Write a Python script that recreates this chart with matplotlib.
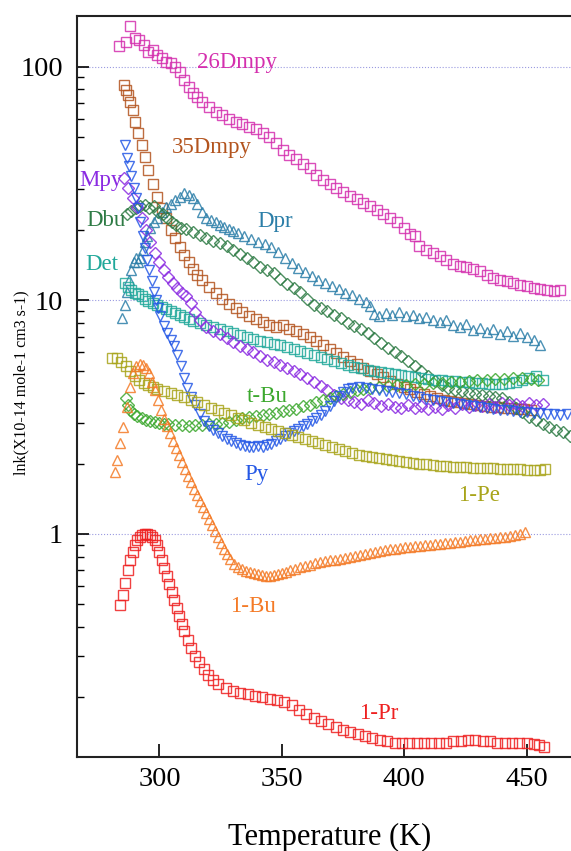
#!/usr/bin/env python3

import numpy as np
import matplotlib
matplotlib.use("Agg")
import matplotlib.pyplot as plt
from matplotlib.ticker import LogLocator, NullFormatter, NullLocator

plt.rcParams['font.family'] = ['Liberation Serif', 'DejaVu Serif']

# ---- data (temperature in K, k in 1e-14 mol-1 cm3 s-1) ----
t_26dmpy = [283.5, 286.3, 288.1, 289.9, 291.7, 293.6,
            295.4, 297.2, 299.1, 300.9, 302.7, 304.6, 306.4, 308.2, 310.0, 311.9, 313.7, 315.5, 317.4,
            320.1, 322.9, 325.6, 328.3, 331.1, 333.8, 336.6, 339.3, 342.1, 344.8, 347.6, 350.3, 353.1,
            355.8, 358.5, 361.3, 364.0, 366.8, 369.5, 372.3, 375.0, 377.8, 380.5, 383.2, 386.0, 388.7,
            391.5, 394.2, 397.0, 399.7, 402.5, 404.3, 406.1,
            408.9, 411.6, 414.4, 417.1, 419.8, 422.6, 425.3, 428.1, 430.8, 433.6, 436.3, 439.1, 441.8,
            444.6, 447.3, 450.0, 452.8, 455.5, 458.3, 461.0, 463.8]
k_26dmpy = [123, 128, 150, 133, 130, 124,
            116, 118, 112, 109, 105, 104, 100, 95, 88, 82, 77, 74, 71,
            67, 64, 62, 60, 58, 57, 55, 54, 52, 50, 47, 44, 42, 40.4, 38.4, 36.9, 34.5, 32.8, 31.6,
            30.3, 29.2, 28.0, 27.1, 26.1, 25.3, 24.4, 23.5, 22.5, 21.7, 20.5, 19.3, 18.9, 17.1,
            16.4, 16.0, 15.5, 14.9, 14.3, 14.1, 13.9, 13.6, 13.4, 12.9, 12.5, 12.2, 12.1, 11.9, 11.6,
            11.5, 11.3, 11.2, 11.1, 11.0, 11.1]

t_35dmpy = [285.3, 286.3, 287.2, 288.1, 289.0, 289.9, 291.3, 292.7, 294.0, 295.4,
            297.2, 299.1, 300.9, 302.7, 304.6, 306.4, 308.2, 310.0, 311.9, 313.7, 315.5, 317.4,
            320.1, 322.9, 325.6, 328.3, 331.1, 333.8, 336.6, 339.3, 342.1, 344.8, 347.6, 350.3, 353.1,
            355.8, 358.5, 361.3, 364.0, 366.8, 369.5, 372.3, 375.0, 377.8, 380.5, 383.2, 386.0, 388.7,
            391.5, 394.2, 397.0, 399.7, 402.5, 405.2, 408.0, 410.7, 413.4, 416.2, 418.9, 421.7, 424.4,
            427.2, 429.9, 432.7, 435.4, 438.1, 440.9, 443.6, 446.4, 449.1, 451.9]
k_35dmpy = [83.7, 79.7, 75.9, 70.8, 65.5, 58.1, 52.1, 46.3, 41.2, 36.2,
            31.6, 27.7, 24.9, 22.6, 20.0, 18.5, 17.0, 15.7, 14.6, 13.6, 12.9, 12.2,
            11.4, 10.8, 10.1, 9.66, 9.29, 8.93, 8.59, 8.34, 8.09, 7.85, 7.70, 7.85, 7.55, 7.40, 7.19,
            6.98, 6.71, 6.45, 6.20, 5.96, 5.73, 5.51, 5.35, 5.14, 4.99, 4.84, 4.70, 4.52, 4.39, 4.26,
            4.18, 4.06, 3.98, 3.90, 3.82, 3.75, 3.71, 3.68, 3.64, 3.60, 3.57, 3.53, 3.50, 3.50, 3.46,
            3.46, 3.43, 3.43, 3.40]

t_mpy = [285.3, 287.2, 289.0, 290.8, 292.7, 294.5, 296.3, 298.2, 300.0, 301.8, 303.6, 305.5,
         307.3, 309.1, 311.0, 312.8, 314.6, 316.5,
         319.2, 321.9, 324.7, 327.4, 330.2, 332.9, 335.7, 338.4, 341.2, 343.9, 346.6, 349.4, 352.1,
         354.9, 357.6, 360.4, 363.1, 365.9, 368.6, 371.4, 374.1, 376.8, 379.6, 382.3, 385.1, 387.8,
         390.6, 393.3, 396.1, 398.8, 401.6, 404.3, 407.0, 409.8, 412.5, 415.3, 418.0, 420.8, 423.5,
         426.3, 429.0, 431.8, 434.5, 437.2, 440.0, 442.7, 445.5, 448.2, 451.0, 453.7, 456.5]
k_mpy = [33.5, 30.3, 27.5, 25.1, 22.5, 20.0, 17.8, 16.0, 14.6, 13.5, 12.6, 11.9,
         11.3, 10.8, 10.4, 9.76, 8.93, 8.25,
         7.70, 7.40, 7.19, 6.91, 6.64, 6.38, 6.20, 6.02, 5.78, 5.56, 5.45, 5.29, 5.14, 4.99, 4.84,
         4.66, 4.48, 4.30, 4.14, 3.94, 3.82, 3.75, 3.68, 3.60, 3.75, 3.64, 3.53, 3.60, 3.50, 3.46,
         3.57, 3.46, 3.53, 3.43, 3.50, 3.43, 3.57, 3.46, 3.60, 3.50, 3.57, 3.53, 3.60, 3.50, 3.64,
         3.57, 3.60, 3.53, 3.64, 3.57, 3.60]

t_py = [285.8, 286.7, 287.6, 288.5, 289.5, 290.4, 291.3, 292.2, 293.1, 294.0, 295.0, 295.9,
        296.8, 297.7, 298.6, 299.5, 300.4,
        301.8, 303.2, 304.6, 305.9, 307.3, 308.7, 310.0, 311.4,
        312.8, 314.6, 316.5, 318.3, 320.1, 321.9, 323.8, 325.6, 327.4, 329.3, 331.1, 332.9, 334.8,
        336.6, 338.4, 340.2, 342.1, 343.9, 345.7, 347.6, 349.4, 351.2, 353.1, 354.9, 356.7, 358.5,
        360.4, 362.2, 364.0, 365.9, 367.7, 369.5, 371.4, 373.2, 375.0, 376.8, 378.7,
        381.4, 384.2, 386.9, 389.7, 392.4, 395.1, 397.9, 400.6, 403.4, 406.1, 408.9, 411.6, 414.4,
        417.1, 419.8, 422.6, 425.3, 428.1, 430.8, 433.6, 436.3, 439.1, 441.8, 444.6, 447.3, 450.0,
        452.8, 455.5, 458.3, 461.0, 463.8, 466.5]
k_py = [46.3, 40.8, 37.7, 34.1, 30.3, 27.5, 24.9, 21.7, 18.9, 16.8, 14.9, 13.5, 12.1, 10.9,
        10.0, 9.29, 8.59,
        7.78, 7.26, 6.78, 6.38, 5.84, 5.24, 4.66, 4.22,
        3.86, 3.57, 3.27, 3.05, 2.90, 2.79, 2.71, 2.63, 2.55, 2.50, 2.45, 2.41, 2.38, 2.36, 2.36,
        2.38, 2.36, 2.41, 2.43, 2.50, 2.55, 2.63, 2.71, 2.76, 2.82, 2.90, 2.96, 3.05, 3.14, 3.23,
        3.36, 3.53, 3.71, 3.90, 4.06, 4.18, 4.22,
        4.26, 4.22, 4.18, 4.14, 4.10, 4.06, 4.02, 3.98, 3.90, 3.86, 3.79, 3.75, 3.71, 3.68, 3.64,
        3.60, 3.57, 3.53, 3.50, 3.46, 3.43, 3.40, 3.40, 3.36, 3.33, 3.33, 3.30, 3.30, 3.27, 3.27,
        3.23, 3.27]

t_dbu = [286.7, 288.5, 290.4, 292.2, 294.0, 295.9, 297.7, 299.5, 301.4, 303.2, 305.0, 306.8, 308.7,
         311.0, 313.7, 316.5, 319.2, 321.9, 324.7, 327.4, 330.2, 332.9, 335.7, 338.4, 341.2, 343.9,
         346.6, 349.4, 352.1, 354.9, 357.6, 360.4, 363.1, 365.9, 368.6, 371.4, 374.1, 376.8, 379.6,
         382.3, 385.1, 387.8, 390.6, 393.3, 396.1, 398.8, 401.6, 404.3, 407.0, 409.8, 412.5, 415.3,
         418.0, 420.8, 423.5, 426.3, 429.0, 431.8, 434.5, 437.2, 440.0, 442.7, 445.5, 448.2, 451.0,
         453.7, 456.5, 459.2, 462.0, 464.7, 467.5]
k_dbu = [23.5, 24.2, 24.9, 25.4, 25.7, 24.9, 25.4, 23.9, 23.5, 22.5, 21.7, 21.1, 20.4,
         20.3, 19.6, 19.1, 18.5, 18.0, 17.6, 17.1, 16.5, 15.8, 15.2, 14.6, 13.9, 13.5, 13.1, 12.4,
         11.8, 11.3, 10.9, 10.1, 9.57, 9.29, 9.02, 8.67, 8.41, 8.01, 7.78, 7.55, 7.26, 6.91, 6.58,
         6.26, 6.02, 5.78, 5.51, 5.24, 4.99, 4.75, 4.52, 4.34, 4.22, 4.14, 4.10, 4.02, 3.98, 3.94,
         3.90, 3.86, 3.82, 3.68, 3.46, 3.33, 3.17, 3.08, 2.96, 2.87, 2.79, 2.73, 2.63]

t_dpr = [284.7, 285.8, 286.7, 287.6, 288.5, 289.5, 290.4, 291.3, 292.2, 293.1, 294.0, 295.0,
         296.3, 297.7, 299.1,
         300.9, 302.7, 304.6, 306.4, 308.2, 310.0, 311.9, 313.7, 315.5, 317.4, 319.2, 321.0, 322.9,
         324.7, 326.5, 328.3, 330.2, 332.0,
         334.7, 337.5, 340.2, 343.0, 345.7, 348.5, 351.2, 354.0, 356.7, 359.4, 362.2, 364.9, 367.7,
         370.4, 373.2, 375.9, 378.7, 381.4, 384.2,
         386.0, 387.8, 389.7,
         392.4, 395.1, 397.9, 400.6, 403.4, 406.1, 408.9, 411.6, 414.4, 417.1, 419.8, 422.6, 425.3,
         428.1, 430.8, 433.6, 436.3, 439.1, 441.8, 444.6, 447.3, 450.0, 452.8, 455.5]
k_dpr = [8.41, 9.57, 10.9, 12.2, 13.5, 14.6, 15.2, 14.6, 15.2, 16.5, 17.8, 18.9,
         20.4, 21.7, 22.5,
         23.9, 25.1, 25.9, 26.9, 27.7, 28.9, 28.3, 27.5, 25.9, 23.9, 22.5, 22.1, 21.7, 21.1, 20.6,
         20.3, 19.9, 19.5,
         18.9, 18.4, 17.8, 17.5, 17.0, 16.1, 15.2, 14.5, 13.8, 13.2, 12.7, 12.2, 11.9, 11.5, 11.2,
         10.8, 10.5, 10.1, 9.86,
         9.47, 8.75, 8.59,
         8.84, 8.67, 8.93, 8.59, 8.67, 8.41, 8.50, 8.25, 8.09, 8.25, 7.85, 7.70, 7.93, 7.48, 7.62,
         7.33, 7.55, 7.19, 7.40, 7.05, 7.26, 6.98, 6.78, 6.45]

t_det = [285.8, 287.2, 288.5, 289.9, 291.3, 292.7, 294.0, 295.4,
         297.2, 299.1, 300.9, 302.7, 304.6, 306.4, 308.2, 310.0, 311.9, 313.7,
         316.5, 319.2, 321.9, 324.7, 327.4, 330.2, 332.9, 335.7, 338.4, 341.2, 343.9, 346.6, 349.4,
         352.1, 354.9, 357.6, 360.4, 363.1, 365.9, 368.6, 371.4, 374.1, 376.8, 379.6, 382.3, 385.1,
         387.8, 390.6, 393.3, 396.1, 398.8, 401.6, 404.3, 407.0, 409.8, 412.5, 415.3, 418.0, 420.8,
         423.5, 426.3, 429.0, 431.8, 434.5, 437.2, 440.0, 442.7, 445.5, 448.2, 451.0, 453.7, 456.5]
k_det = [11.9, 11.4, 11.1, 10.8, 10.6, 10.4, 10.1, 9.95,
         9.76, 9.57, 9.38, 9.20, 9.02, 8.84, 8.67, 8.50, 8.34, 8.17,
         8.01, 7.85, 7.70, 7.55, 7.40, 7.26, 7.12, 6.98, 6.85, 6.71, 6.64, 6.51, 6.45, 6.32, 6.20,
         6.08, 5.96, 5.84, 5.73, 5.61, 5.51, 5.40, 5.29, 5.19, 5.14, 5.04, 4.99, 4.94, 4.89, 4.84,
         4.80, 4.75, 4.70, 4.66, 4.61, 4.57, 4.57, 4.52, 4.52, 4.48, 4.48, 4.43, 4.43, 4.39, 4.39,
         4.39, 4.43, 4.48, 4.57, 4.66, 4.75, 4.57]

t_tbu = [286.3, 287.2, 288.1, 289.5, 290.8, 292.7, 294.5, 296.3, 298.2, 300.0, 301.8, 303.6,
         306.4, 309.1, 311.9, 314.6, 317.4, 320.1, 322.9, 325.6, 328.3, 331.1, 333.8, 336.6, 339.3,
         342.1, 344.8, 347.6, 350.3, 353.1, 355.8, 358.5, 361.3, 364.0, 366.8, 369.5, 372.3, 375.0,
         377.8, 380.5, 383.2, 386.0,
         389.7, 393.3, 397.0, 400.6, 404.3, 408.0, 411.6, 415.3, 418.9, 422.6, 426.3, 429.9, 433.6,
         437.2, 440.9, 444.6, 448.2, 451.9, 454.6]
k_tbu = [3.82, 3.57, 3.40, 3.27, 3.20, 3.14, 3.08, 3.05, 3.02, 2.99, 2.96, 2.96,
         2.93, 2.93, 2.90, 2.93, 2.93, 2.96, 2.96, 2.99, 3.02, 3.08, 3.14, 3.17, 3.20, 3.23, 3.27,
         3.30, 3.36, 3.40, 3.43, 3.53, 3.57, 3.68, 3.75, 3.82, 3.90, 3.98, 4.06, 4.14, 4.18, 4.22,
         4.26, 4.30, 4.34, 4.34, 4.39, 4.39, 4.43, 4.43, 4.48, 4.48, 4.52, 4.57, 4.57, 4.61, 4.61,
         4.66, 4.66, 4.61, 4.57]

t_pe = [280.8, 282.6, 284.4, 286.3, 288.1, 289.9, 291.7, 293.6, 295.4, 297.2, 299.1,
        301.8, 304.6, 307.3, 310.0, 312.8, 315.5, 318.3, 321.0, 323.8, 326.5, 329.3, 332.0, 334.7,
        337.5, 340.2, 343.0, 345.7, 348.5, 351.2, 354.0, 356.7, 359.4, 362.2, 364.9, 367.7, 370.4,
        373.2, 375.9, 378.7, 381.4, 384.2, 386.9, 389.7, 392.4, 395.1, 397.9, 400.6, 403.4, 406.1,
        408.9, 411.6, 414.4, 417.1, 419.8, 422.6, 425.3, 428.1, 430.8, 433.6, 436.3, 439.1, 441.8,
        444.6, 447.3, 450.0, 452.8, 455.5, 457.4]
k_pe = [5.67, 5.67, 5.45, 5.24, 4.99, 4.75, 4.57, 4.43, 4.34, 4.26, 4.18,
        4.10, 4.02, 3.94, 3.86, 3.75, 3.68, 3.57, 3.46, 3.40, 3.30, 3.23, 3.14, 3.08, 2.99, 2.93,
        2.87, 2.82, 2.76, 2.71, 2.65, 2.60, 2.55, 2.50, 2.45, 2.41, 2.36, 2.31, 2.27, 2.22, 2.18,
        2.16, 2.14, 2.11, 2.09, 2.07, 2.05, 2.03, 2.01, 2.00, 2.00, 1.98, 1.96, 1.96, 1.94, 1.94,
        1.94, 1.92, 1.92, 1.92, 1.92, 1.90, 1.90, 1.90, 1.90, 1.88, 1.88, 1.88, 1.90]

t_bu = [281.8, 282.6, 283.9, 285.1, 286.7, 287.9, 289.2, 290.4, 292.0, 293.3, 294.5, 295.7,
        296.9, 298.2, 299.4, 300.6, 301.8, 303.1, 304.3, 305.5, 306.7, 308.0, 309.2, 310.4, 311.6,
        312.9, 314.1, 315.3, 316.5, 317.8, 319.0, 320.2, 321.4, 322.7, 323.9, 325.1, 326.3, 327.6,
        328.8, 330.4, 332.1, 333.7, 335.3, 337.0, 338.6, 340.2, 341.9, 343.5, 345.1, 346.8, 348.4,
        350.0, 351.7, 353.3, 355.4, 357.4, 359.4, 361.5, 363.5, 365.6, 367.6, 369.6, 371.7, 373.7,
        375.8, 377.8, 379.9, 381.9, 383.9, 386.0, 388.0, 390.0, 392.1, 394.1, 396.2, 398.2, 400.3,
        402.3, 404.4, 406.4, 408.5, 410.5, 412.5, 414.6, 416.6, 418.7, 420.7, 422.7, 424.8, 426.8,
        428.9, 430.9, 433.0, 435.0, 437.0, 439.1, 441.1, 443.2, 445.2, 447.3, 449.3]
k_bu = [1.84, 2.07, 2.45, 2.87, 3.50, 4.26, 4.89, 5.24, 5.35, 5.29, 5.14, 4.89, 4.48, 4.14,
        3.75, 3.40, 3.11, 2.90, 2.71, 2.50, 2.33, 2.18, 2.03, 1.90, 1.77, 1.67, 1.56, 1.47, 1.38,
        1.31, 1.23, 1.16, 1.09, 1.03, 0.971, 0.915, 0.863, 0.821, 0.781, 0.744, 0.722, 0.708,
        0.695, 0.687, 0.681, 0.674, 0.667, 0.661, 0.661, 0.667, 0.674, 0.681, 0.687, 0.701,
        0.708, 0.722, 0.730, 0.737, 0.751, 0.759, 0.767, 0.774, 0.774, 0.781, 0.789, 0.797,
        0.805, 0.813, 0.821, 0.829, 0.838, 0.846, 0.854, 0.863, 0.863, 0.871, 0.880, 0.880,
        0.888, 0.888, 0.897, 0.897, 0.906, 0.906, 0.915, 0.915, 0.924, 0.924, 0.933, 0.942,
        0.942, 0.952, 0.952, 0.961, 0.961, 0.971, 0.971, 0.980, 0.990, 1.00, 1.02]

t_pr = [284, 285, 286, 287, 288, 289, 290, 291, 292, 293, 294, 295, 296, 297, 298, 299, 300,
        301, 302, 303, 304, 305, 306, 307, 308, 309, 310, 311.5, 313, 314.5, 316, 318, 320, 322,
        324, 327, 330, 333, 336, 339, 342, 345, 348, 351, 354, 357, 360, 363, 366, 369, 372, 375,
        378, 381, 384, 387, 390, 393, 396, 399, 402, 405, 408, 411, 414, 417, 420, 423, 426, 429,
        432, 435, 438, 441, 444, 447, 450, 453, 455, 457]
k_pr = [0.497, 0.548, 0.617, 0.701, 0.774, 0.838, 0.897, 0.942, 0.971, 0.990, 1.00, 1.00,
        0.990, 0.971, 0.942, 0.897, 0.838, 0.774, 0.715, 0.661, 0.611, 0.565, 0.522, 0.482,
        0.445, 0.412, 0.384, 0.352, 0.325, 0.300, 0.283, 0.264, 0.249, 0.237, 0.228, 0.219,
        0.213, 0.208, 0.206, 0.202, 0.200, 0.196, 0.195, 0.191, 0.185, 0.176, 0.170, 0.163,
        0.158, 0.154, 0.149, 0.145, 0.142, 0.139, 0.136, 0.134, 0.131, 0.130, 0.128, 0.127,
        0.127, 0.127, 0.127, 0.128, 0.128, 0.128, 0.130, 0.130, 0.131, 0.131, 0.130, 0.130,
        0.128, 0.128, 0.128, 0.127, 0.127, 0.126, 0.125, 0.122]

# series: (label, temps, values, colour, marker, size)
series = [
    ("26Dmpy", t_26dmpy, k_26dmpy, "#d42fae", "s", 7.0),
    ("35Dmpy", t_35dmpy, k_35dmpy, "#b3541e", "s", 7.0),
    ("Dpr", t_dpr, k_dpr, "#2b7ea8", "^", 7.6),
    ("Dbu", t_dbu, k_dbu, "#2e7b45", "D", 5.8),
    ("Det", t_det, k_det, "#20a89a", "s", 7.0),
    ("Mpy", t_mpy, k_mpy, "#8b2be2", "D", 5.8),
    ("t-Bu", t_tbu, k_tbu, "#3ca82e", "D", 5.8),
    ("Py", t_py, k_py, "#2458e6", "v", 7.6),
    ("1-Pe", t_pe, k_pe, "#a8a41a", "s", 7.0),
    ("1-Bu", t_bu, k_bu, "#f47a26", "^", 7.6),
    ("1-Pr", t_pr, k_pr, "#ee2020", "s", 7.0),
]

# in-plot labels: text, T, k, colour
labels = [
    ("26Dmpy", 331.7, 104.5, "#d42fae"),
    ("35Dmpy", 321.4, 45.0, "#b3541e"),
    ("Mpy", 276.1, 32.5, "#8b2be2"),
    ("Dbu", 278.1, 21.9, "#2e7b45"),
    ("Dpr", 347.2, 21.7, "#2b7ea8"),
    ("Det", 276.4, 14.3, "#20a89a"),
    ("t-Bu", 344.1, 3.86, "#3ca82e"),
    ("Py", 339.7, 1.80, "#2458e6"),
    ("1-Pe", 430.4, 1.46, "#a8a41a"),
    ("1-Bu", 338.2, 0.489, "#f47a26"),
    ("1-Pr", 389.5, 0.171, "#ee2020"),
]

x_ticks = [300, 350, 400, 450]
y_ticks = [1, 10, 100]
y_ticklabels = ["1", "10", "100"]


def main():
    fig = plt.figure(figsize=(5.71, 8.51), dpi=100)
    ax = fig.add_axes([77 / 571, 94 / 851, 494 / 571, 741 / 851])

    for name, t, k, col, mk, ms in series:
        ax.plot(t, k, ls="none", marker=mk, ms=ms, mfc="none", mec=col,
                mew=1.0, alpha=0.85)

    for txt, tx, ky, col in labels:
        ax.text(tx, ky, txt, color=col, fontsize=16.5, ha="center", va="center")

    ax.set_yscale("log")
    ax.set_xlim(266.3, 468.1)
    ax.set_ylim(0.111, 165)

    ax.set_xticks(x_ticks)
    ax.set_xticklabels([str(v) for v in x_ticks])
    ax.xaxis.set_minor_locator(NullLocator())
    ax.set_yticks(y_ticks)
    ax.set_yticklabels(y_ticklabels)
    ax.yaxis.set_minor_locator(LogLocator(base=10, subs=np.arange(2, 10)))
    ax.yaxis.set_minor_formatter(NullFormatter())

    ax.tick_params(axis="x", which="major", direction="in", length=9.5, width=1.2,
                   pad=7, labelsize=20.5, top=False)
    ax.tick_params(axis="y", which="major", direction="in", length=8.6, width=1.2,
                   pad=10, labelsize=20.5, right=False)
    ax.tick_params(axis="y", which="minor", direction="in", length=5, width=1.0,
                   right=False)

    ax.grid(True, axis="y", which="major", ls=":", color="#9a9ae0", lw=0.8)

    for side in ["left", "bottom", "top"]:
        ax.spines[side].set_linewidth(1.5)
        ax.spines[side].set_color("#222222")
    ax.spines["right"].set_visible(False)

    fig.text(330 / 571, 1 - 837 / 851, "Temperature (K)", ha="center", va="center",
             fontsize=22)
    fig.text(21 / 571, 1 - 383 / 851, "lnk(X10-14 mole-1 cm3 s-1)", ha="center",
             va="center", rotation=90, fontsize=11.5)

    fig.savefig("out.png", dpi=100)


if __name__ == "__main__":
    main()
